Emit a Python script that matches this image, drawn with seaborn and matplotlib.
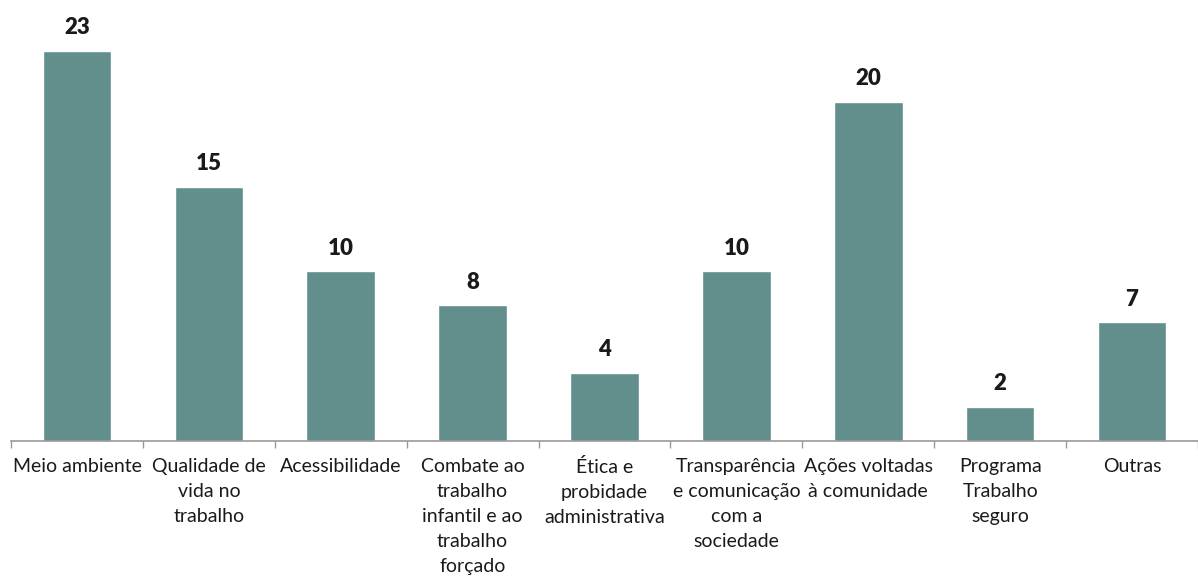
import matplotlib
matplotlib.use("Agg")
import matplotlib.pyplot as plt
import seaborn as sns
import pandas as pd
import numpy as np

# dados
categorias = [
    "Meio ambiente",
    "Qualidade de\nvida no\ntrabalho",
    "Acessibilidade",
    "Combate ao\ntrabalho\ninfantil e ao\ntrabalho\nforçado",
    "Ética e\nprobidade\nadministrativa",
    "Transparência\ne comunicação\ncom a\nsociedade",
    "Ações voltadas\nà comunidade",
    "Programa\nTrabalho\nseguro",
    "Outras",
]
valores = [23, 15, 10, 8, 4, 10, 20, 2, 7]

sns.set_theme(style="white")
plt.rcParams["font.family"] = ["Lato", "DejaVu Sans"]

df = pd.DataFrame({"Categoria": categorias, "Valor": valores})

fig = plt.figure(figsize=(11.98, 5.81), dpi=100)
ax = fig.add_axes([11 / 1198, 140 / 581, 1187 / 1198, 441 / 581])

sns.barplot(x="Categoria", y="Valor", data=df, color="#628f8b",
            width=0.52, saturation=1, ax=ax)

for i, v in enumerate(valores):
    ax.text(i, v + 0.75, str(v), ha="center", va="bottom",
            fontsize=16, fontweight="heavy", color="#1a1a1a")

ax.set_xlim(-0.5, len(categorias) - 0.5)
ax.set_ylim(0, 26)
ax.set_xlabel("")
ax.set_ylabel("")
ax.set_yticks([])

for s in ["top", "right", "left"]:
    ax.spines[s].set_visible(False)
ax.spines["bottom"].set_color("#999999")
ax.spines["bottom"].set_linewidth(1.2)

# marcas entre categorias
ax.set_xticks(np.arange(-0.5, len(categorias)), minor=True)
ax.tick_params(axis="x", which="minor", length=5, width=1, color="#999999",
               direction="out", bottom=True)
ax.tick_params(axis="x", which="major", length=0, pad=12, labelsize=14,
               labelcolor="#1a1a1a")
ax.set_xticks(range(len(categorias)))
ax.set_xticklabels(categorias, ha="center", linespacing=1.58)

fig.savefig("out.png", dpi=100)
